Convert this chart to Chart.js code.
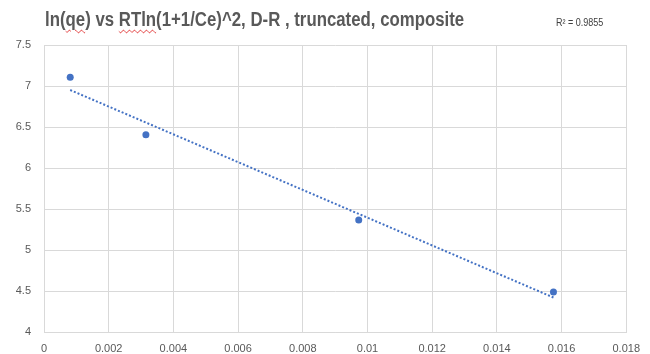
<!DOCTYPE html>
<html lang="en">
<head>
  <meta charset="UTF-8" />
  <title>ln(qe) vs RTln(1+1/Ce)^2</title>
  <script src="https://cdn.jsdelivr.net/npm/chart.js"></script>
  <style>
    html, body {
      margin: 0;
      padding: 0;
      background: #fff;
    }
    .marco {
      position: relative;
      width: 650px;
      height: 354px;
    }
    .titulo {
      position: absolute;
      left: 45px;
      top: 8px;
      margin: 0;
      font: bold 20px 'Liberation Sans', sans-serif;
      color: #595959;
      white-space: nowrap;
      transform: scaleX(0.84);
      transform-origin: left top;
    }
    .titulo span {
      text-decoration: underline wavy #e03030;
      text-decoration-thickness: 1px;
      text-underline-offset: 3px;
    }
    .r2 {
      position: absolute;
      left: 556px;
      top: 17px;
      font: 10px 'Liberation Sans', sans-serif;
      color: #404040;
      transform: scaleX(0.9);
      transform-origin: left top;
    }
    canvas {
      position: absolute;
      left: 0;
      top: 0;
    }
  </style>
</head>
<body>
  <div class="marco">
    <canvas id="grafico" width="650" height="354"></canvas>
    <h2 class="titulo">ln(<span>qe</span>) vs <span>RTln</span>(1+1/Ce)^2, D-R , truncated, composite</h2>
    <div class="r2">R² = 0.9855</div>
  </div>

  <script>
    const valoresX = [0.00081, 0.00315, 0.00973, 0.01575];
    const valoresY = [7.106, 6.406, 5.366, 4.488];
    const ticksX = [0, 0.002, 0.004, 0.006, 0.008, 0.01, 0.012, 0.014, 0.016, 0.018];
    const ticksY = [4, 4.5, 5, 5.5, 6, 6.5, 7, 7.5];

    // linea de tendencia (minimos cuadrados)
    const n = valoresX.length;
    const mx = valoresX.reduce((a, b) => a + b, 0) / n;
    const my = valoresY.reduce((a, b) => a + b, 0) / n;
    let sxy = 0, sxx = 0;
    for (let i = 0; i < n; i++) {
      sxy += (valoresX[i] - mx) * (valoresY[i] - my);
      sxx += (valoresX[i] - mx) ** 2;
    }
    const pendiente = sxy / sxx;
    const corte = my - pendiente * mx;
    const xMin = Math.min(...valoresX), xMax = Math.max(...valoresX);
    const tendencia = [
      { x: xMin, y: corte + pendiente * xMin },
      { x: xMax, y: corte + pendiente * xMax }
    ];

    const puntos = valoresX.map((x, i) => ({ x, y: valoresY[i] }));
    const fuente = { family: "'Liberation Sans', sans-serif", size: 11 };
    const gris = '#d9d9d9';

    new Chart(document.getElementById('grafico').getContext('2d'), {
      type: 'scatter',
      data: {
        datasets: [{
          data: puntos,
          backgroundColor: '#4472C4',
          borderColor: '#4472C4',
          pointRadius: 3.5,
          borderWidth: 0
        }, {
          data: tendencia,
          showLine: true,
          borderColor: '#4472C4',
          borderWidth: 2,
          borderDash: [2, 2],
          pointRadius: 0
        }]
      },
      options: {
        responsive: false,
        animation: false,
        layout: { padding: { top: 45, right: 22, left: 0, bottom: 0 } },
        plugins: {
          legend: { display: false },
          tooltip: { enabled: false }
        },
        scales: {
          x: {
            type: 'linear',
            min: 0,
            max: 0.018,
            afterBuildTicks: axis => { axis.ticks = ticksX.map(v => ({ value: v })); },
            afterFit: axis => { axis.height = 22; },
            ticks: {
              color: '#595959',
              font: fuente,
              padding: 10,
              maxRotation: 0,
              callback: v => String(Number(v.toFixed(3)))
            },
            grid: { color: gris, drawTicks: false },
            border: { color: gris }
          },
          y: {
            min: 4,
            max: 7.5,
            afterBuildTicks: axis => { axis.ticks = ticksY.map(v => ({ value: v })); },
            afterFit: axis => { axis.width = 44; },
            ticks: {
              color: '#595959',
              font: fuente,
              padding: 13,
              callback: v => String(v)
            },
            grid: { color: gris, drawTicks: false },
            border: { color: gris }
          }
        }
      }
    });
  </script>
</body>
</html>
